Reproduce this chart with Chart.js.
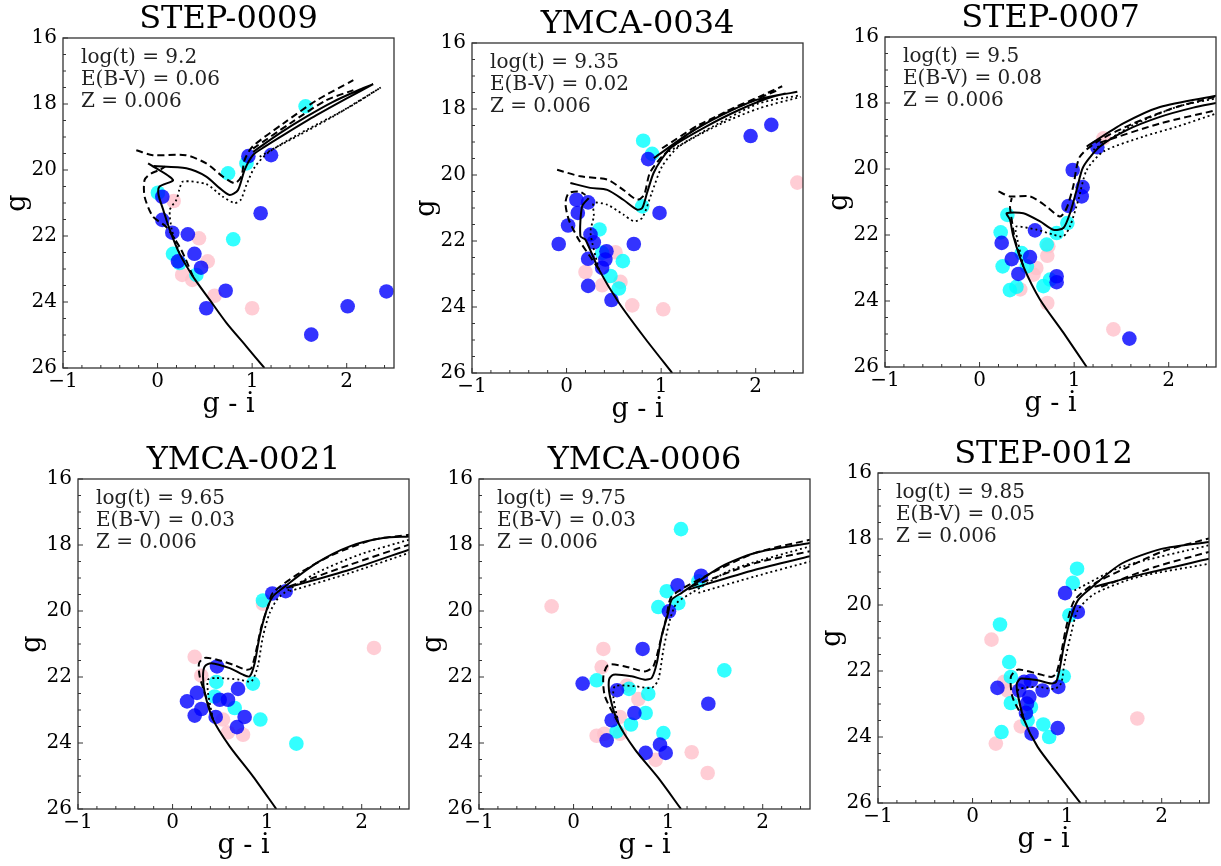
<!DOCTYPE html>
<html>
<head>
<meta charset="utf-8">
<title>Isochrone fits</title>
<script src="https://cdn.jsdelivr.net/npm/chart.js"></script>
<style>
  html, body { margin: 0; padding: 0; background: #fff; overflow: hidden; }
  body { width: 1221px; height: 866px; position: relative; }
  canvas { position: absolute; }
</style>
</head>
<body>
<canvas id="c1" width="401" height="422" style="left:1px;top:1px"></canvas>
<canvas id="c2" width="401" height="422" style="left:410px;top:6px"></canvas>
<canvas id="c3" width="401" height="422" style="left:823px;top:0px"></canvas>
<canvas id="c4" width="401" height="422" style="left:16px;top:442px"></canvas>
<canvas id="c5" width="401" height="422" style="left:417px;top:442px"></canvas>
<canvas id="c6" width="401" height="422" style="left:816px;top:436px"></canvas>
<script>
// axes
const xTicks = [-1, 0, 1, 2];
const yTicks = [16, 18, 20, 22, 24, 26];

// panel labels
const titles = ['STEP-0009', 'YMCA-0034', 'STEP-0007', 'YMCA-0021', 'YMCA-0006', 'STEP-0012'];
const logAges = ['9.2', '9.35', '9.5', '9.65', '9.75', '9.85'];
const reddening = ['0.06', '0.02', '0.08', '0.03', '0.03', '0.05'];
const metallicity = ['0.006', '0.006', '0.006', '0.006', '0.006', '0.006'];

// stars: [g - i, g]
const p1Blue = [[0.05,20.81],[0.05,21.51],[0.156,21.90],[0.32,21.95],[0.39,22.54],[0.216,22.77],[0.46,22.96],[0.515,24.19],[0.72,23.66],[1.09,21.31],[1.20,19.55],[0.96,19.58],[1.625,24.99],[2.01,24.13],[2.42,23.68]];
const p1Cyan = [[0.004,20.69],[0.745,20.10],[0.80,22.10],[0.163,22.54],[0.233,22.82],[0.41,23.18],[0.94,19.80],[1.565,18.07]];
const p1Pink = [[0.17,20.94],[0.438,22.07],[0.53,22.77],[0.26,23.18],[0.367,23.33],[0.603,23.81],[1.0,24.19]];

const p2Blue = [[0.104,20.75],[0.228,20.83],[0.119,21.15],[0.016,21.53],[-0.083,22.09],[0.253,21.80],[0.288,22.04],[0.228,22.54],[0.422,22.31],[0.41,22.56],[0.376,22.81],[0.228,23.36],[0.475,23.79],[0.711,22.09],[0.983,21.15],[0.863,19.52],[1.946,18.82],[2.165,18.48]];
const p2Cyan = [[0.81,18.96],[0.905,19.36],[0.80,20.95],[0.348,21.65],[0.376,22.36],[0.595,22.61],[0.464,23.06],[0.553,23.44]];
const p2Pink = [[0.517,22.34],[0.20,22.94],[0.376,23.34],[0.57,23.24],[0.694,23.95],[1.022,24.07],[2.44,20.23]];

const p3Blue = [[1.245,19.34],[0.985,20.03],[1.09,20.55],[1.08,20.83],[0.94,21.12],[0.586,21.86],[0.234,22.24],[0.533,22.67],[0.34,22.73],[0.41,23.18],[0.815,23.25],[0.815,23.43],[1.584,25.14]];
const p3Cyan = [[0.294,21.39],[0.223,21.92],[0.928,21.64],[0.815,21.94],[0.71,22.29],[0.445,22.55],[0.50,22.95],[0.244,22.95],[0.39,23.57],[0.32,23.67],[0.675,23.55],[0.745,23.35]];
const p3Pink = [[0.727,22.34],[0.716,22.63],[0.60,23.0],[0.57,23.2],[0.43,23.65],[0.716,24.06],[1.415,24.86],[1.31,19.07]];

const p4Blue = [[1.055,19.47],[1.196,19.40],[0.47,21.68],[0.692,22.36],[0.258,22.48],[0.153,22.74],[0.304,22.97],[0.234,23.17],[0.498,22.69],[0.586,22.69],[0.456,23.21],[0.762,23.21],[0.681,23.52]];
const p4Cyan = [[0.956,19.68],[0.463,22.15],[0.85,22.2],[0.445,22.59],[0.657,22.94],[0.928,23.29],[1.309,24.02]];
const p4Pink = [[0.234,21.39],[0.956,19.78],[0.304,21.96],[0.533,23.29],[0.586,23.68],[0.745,23.75],[2.13,21.12]];

const p5Blue = [[1.348,18.93],[1.10,19.22],[1.009,20.01],[0.73,21.15],[0.096,22.2],[0.459,22.40],[0.403,23.31],[0.643,23.09],[0.35,23.92],[0.762,24.30],[0.914,24.05],[0.974,24.30],[1.425,22.81]];
const p5Cyan = [[1.136,17.52],[0.985,19.40],[1.108,19.76],[0.896,19.88],[0.244,22.10],[0.586,22.36],[0.79,22.51],[0.762,23.09],[0.607,23.44],[0.456,23.65],[0.95,23.70],[1.594,21.80],[1.32,19.10]];
const p5Pink = [[-0.232,19.86],[0.315,21.15],[0.297,21.70],[0.562,22.26],[0.685,22.67],[0.49,23.21],[0.244,23.78],[0.325,23.72],[0.49,23.72],[0.868,24.51],[1.249,24.28],[1.418,24.91]];

const p6Blue = [[0.978,19.64],[1.113,20.21],[0.263,22.51],[0.546,22.33],[0.617,22.30],[0.493,22.59],[0.6,22.79],[0.741,22.59],[0.907,22.48],[0.575,22.99],[0.564,23.27],[0.90,23.73],[0.624,23.90]];
const p6Cyan = [[1.105,18.90],[1.06,19.33],[1.024,20.31],[0.29,20.59],[0.387,21.73],[0.405,22.18],[0.964,22.16],[0.405,22.97],[0.617,23.09],[0.582,23.49],[0.748,23.62],[0.81,24.0],[0.306,23.85]];
const p6Pink = [[0.20,21.05],[0.37,22.59],[0.334,22.33],[0.51,23.68],[0.246,24.2],[1.742,23.44]];

// isochrones: [g - i, g], null = break between branches
const p1Solid = [[1.13,26.0],[0.94,25.35],[0.73,24.64],[0.55,23.93],[0.375,23.23],[0.23,22.52],[0.13,21.82],[0.06,21.21],[0.01,20.75],[0.02,20.5],[0.163,20.30],[-0.10,19.80], null,
  [-0.04,19.88],[0.304,19.95],[0.515,20.20],[0.656,20.55],[0.762,20.76],[0.85,20.61],[0.92,20.0],[1.008,19.55],[1.13,19.3],[1.36,18.89],[1.68,18.34],[2.0,17.83],[2.28,17.40], null,
  [1.01,19.45],[1.29,18.89],[1.57,18.39],[1.85,17.94],[2.14,17.56],[2.28,17.40]];
const p1Dashed = [[0.375,23.23],[0.25,22.42],[0.09,21.72],[-0.05,21.41],[-0.137,20.81],[-0.137,20.30],[-0.066,20.1],[0.02,20.0],[0.08,19.9], null,
  [-0.225,19.40],[-0.05,19.55],[0.30,19.55],[0.515,19.80],[0.69,20.2],[0.815,20.40],[0.885,20.2],[0.92,19.7],[1.0,19.3],[1.33,18.59],[1.68,17.89],[2.07,17.28], null,
  [1.01,19.35],[1.40,18.59],[1.78,17.89],[2.07,17.58]];
const p1Dotted = [[0.23,22.52],[0.15,21.8],[0.13,21.21],[0.2,20.9],[0.23,20.6],[0.268,20.35],[0.515,20.43],[0.69,20.81],[0.815,21.0],[0.88,20.9],[0.94,20.45],[1.03,19.9],[1.18,19.45],[1.50,18.94],[1.85,18.39],[2.36,17.50], null,
  [1.08,19.6],[1.5,18.9],[2.03,18.09],[2.36,17.50]];

const p2Solid = [[1.117,26.0],[0.835,24.97],[0.553,23.87],[0.341,22.86],[0.20,21.96],[0.146,21.85],[0.164,20.95],[0.234,20.70], null,
  [0.04,20.24],[0.25,20.39],[0.43,20.45],[0.60,20.75],[0.745,21.05],[0.80,21.0],[0.85,20.55],[0.92,19.94],[1.01,19.5],[1.117,19.14],[1.47,18.54],[1.823,18.03],[2.176,17.63],[2.44,17.48], null,
  [0.923,19.49],[1.294,18.74],[1.646,18.18],[2.0,17.73],[2.317,17.53]];
const p2Dashed = [[0.341,22.86],[0.27,22.56],[0.129,21.96],[0.023,21.35],[-0.012,20.85],[0.023,20.55],[0.129,20.5],[0.20,20.6], null,
  [-0.10,19.84],[0.146,20.04],[0.43,20.14],[0.60,20.45],[0.745,20.75],[0.82,20.6],[0.88,19.94],[1.01,19.44],[1.294,18.74],[1.682,18.08],[2.035,17.63],[2.28,17.31], null,
  [1.01,19.19],[1.40,18.48],[1.823,17.93],[2.25,17.41]];
const p2Dotted = [[0.341,22.86],[0.253,21.75],[0.288,21.25],[0.287,20.85],[0.43,20.9],[0.60,21.2],[0.71,21.4],[0.80,21.3],[0.90,20.55],[1.01,19.74],[1.188,19.14],[1.646,18.43],[2.035,17.98],[2.476,17.63], null,
  [1.08,19.29],[1.54,18.54],[2.035,17.83],[2.476,17.58]];

const p3Solid = [[1.133,26.0],[0.886,24.96],[0.64,23.96],[0.463,22.95],[0.357,22.04],[0.322,21.54],[0.287,21.34],[0.463,21.34],[0.64,21.59],[0.78,21.84],[0.886,21.79],[0.956,21.34],[1.027,20.63],[1.097,19.93],[1.273,19.32],[1.556,18.82],[1.908,18.42],[2.26,18.14],[2.5,18.0], null,
  [1.133,19.32],[1.52,18.62],[1.908,18.12],[2.5,17.78]];
const p3Dashed = [[0.463,22.95],[0.375,22.14],[0.34,21.54],[0.322,21.14],[0.34,20.88], null,
  [0.2,20.68],[0.322,20.83],[0.533,20.83],[0.71,21.14],[0.85,21.44],[0.92,21.19],[0.99,20.53],[1.06,19.63],[1.273,19.12],[1.626,18.62],[2.084,18.12],[2.5,17.81], null,
  [1.273,19.2],[1.908,18.62],[2.5,18.22]];
const p3Dotted = [[0.463,22.95],[0.40,22.14],[0.38,21.84],[0.392,21.74],[0.604,21.84],[0.78,21.99],[0.886,22.04],[0.956,21.74],[1.045,20.93],[1.133,20.03],[1.31,19.47],[1.73,19.02],[2.084,18.72],[2.5,18.32], null,
  [1.203,19.42],[1.59,18.72],[2.084,18.12],[2.5,17.86]];

const p4Solid = [[1.097,26.0],[0.85,25.01],[0.604,24.10],[0.428,23.29],[0.34,22.48],[0.322,21.98],[0.34,21.68],[0.41,21.58],[0.604,21.73],[0.745,21.93],[0.815,21.98],[0.868,21.58],[0.92,20.77],[0.99,20.01],[1.06,19.56],[1.168,19.30],[1.52,18.55],[1.873,18.04],[2.225,17.79],[2.5,17.74], null,
  [1.203,19.30],[1.873,18.75],[2.5,18.14]];
const p4Dashed = [[0.428,23.29],[0.34,22.48],[0.287,21.98],[0.28,21.58],[0.34,21.42],[0.463,21.47],[0.64,21.63],[0.78,21.78],[0.833,21.73],[0.886,21.17],[0.94,20.46],[1.01,19.86],[1.06,19.45],[1.344,18.85],[1.697,18.29],[2.12,17.84],[2.5,17.69], null,
  [1.238,19.25],[1.873,18.6],[2.5,17.99]];
const p4Dotted = [[0.428,23.29],[0.375,22.48],[0.375,22.08],[0.463,22.03],[0.71,22.08],[0.833,22.13],[0.90,21.68],[0.956,20.77],[1.027,20.06],[1.133,19.56],[1.52,18.85],[1.978,18.29],[2.5,17.84], null,
  [1.238,19.40],[1.873,18.85],[2.5,18.24]];

const p5Solid = [[1.136,26.0],[0.896,25.06],[0.65,24.2],[0.473,23.39],[0.385,22.59],[0.375,22.08],[0.42,21.93],[0.614,21.98],[0.755,22.08],[0.826,22.03],[0.88,21.58],[0.93,20.77],[1.0,20.06],[1.037,19.66],[1.143,19.45],[1.566,18.65],[1.92,18.24],[2.5,17.94], null,
  [1.214,19.35],[1.92,18.75],[2.5,18.34]];
const p5Dashed = [[0.473,23.39],[0.332,22.59],[0.315,21.98],[0.368,21.63],[0.544,21.68],[0.755,21.83],[0.843,21.68],[0.914,20.97],[0.984,20.16],[1.037,19.56],[1.39,18.95],[1.92,18.24],[2.5,17.84], null,
  [1.249,19.25],[1.92,18.55],[2.5,18.19]];
const p5Dotted = [[0.473,23.39],[0.42,22.59],[0.438,22.28],[0.65,22.28],[0.826,22.33],[0.896,22.08],[0.95,21.17],[1.02,20.26],[1.09,19.76],[1.249,19.45],[1.672,18.75],[2.5,18.04], null,
  [1.32,19.45],[1.92,18.95],[2.5,18.5]];

const p6Solid = [[1.141,26.0],[0.90,25.11],[0.688,24.3],[0.546,23.49],[0.476,22.69],[0.468,22.38],[0.511,22.23],[0.688,22.28],[0.83,22.38],[0.883,22.33],[0.918,21.98],[0.97,21.17],[1.042,20.36],[1.113,19.86],[1.22,19.56],[1.573,18.75],[1.997,18.3],[2.5,18.09], null,
  [1.29,19.45],[1.82,19.05],[2.5,18.6]];
const p6Dashed = [[0.546,23.49],[0.422,22.79],[0.405,22.18],[0.476,21.96],[0.688,22.08],[0.83,22.18],[0.883,22.08],[0.929,21.58],[0.99,20.67],[1.077,19.86],[1.29,19.35],[1.643,18.85],[1.997,18.39],[2.5,17.98], null,
  [1.36,19.45],[1.926,18.85],[2.5,18.39]];
const p6Dotted = [[0.546,23.49],[0.476,22.69],[0.493,22.54],[0.688,22.48],[0.865,22.54],[0.936,22.38],[0.97,21.78],[1.042,20.87],[1.113,20.16],[1.29,19.66],[1.75,19.15],[2.5,18.75], null,
  [1.077,19.56],[1.573,18.85],[2.5,18.19]];

const panels = [
  {blue: p1Blue, cyan: p1Cyan, pink: p1Pink, solid: p1Solid, dashed: p1Dashed, dotted: p1Dotted},
  {blue: p2Blue, cyan: p2Cyan, pink: p2Pink, solid: p2Solid, dashed: p2Dashed, dotted: p2Dotted},
  {blue: p3Blue, cyan: p3Cyan, pink: p3Pink, solid: p3Solid, dashed: p3Dashed, dotted: p3Dotted},
  {blue: p4Blue, cyan: p4Cyan, pink: p4Pink, solid: p4Solid, dashed: p4Dashed, dotted: p4Dotted},
  {blue: p5Blue, cyan: p5Cyan, pink: p5Pink, solid: p5Solid, dashed: p5Dashed, dotted: p5Dotted},
  {blue: p6Blue, cyan: p6Cyan, pink: p6Pink, solid: p6Solid, dashed: p6Dashed, dotted: p6Dotted}
];

const FONT = '"DejaVu Serif", "Liberation Serif", serif';

function toXY(arr) {
  return arr.map(p => p ? {x: p[0], y: p[1]} : {x: null, y: null});
}

function minusLabel(v) {
  return v < 0 ? '\u2212' + Math.abs(v) : String(v);
}

// frame, inward ticks and the fit parameters
const framePlugin = {
  id: 'frame',
  afterDatasetsDraw(chart, args, opts) {
    const ctx = chart.ctx;
    const a = chart.chartArea;
    const xs = chart.scales.x, ys = chart.scales.y;
    ctx.save();
    ctx.strokeStyle = '#333';
    ctx.lineWidth = 1.3;
    ctx.strokeRect(a.left, a.top, a.right - a.left, a.bottom - a.top);
    ctx.lineWidth = 1;
    ctx.beginPath();
    for (let i = -5; i <= 12; i++) {
      const px = xs.getPixelForValue(i / 5);
      const len = (i % 5 === 0) ? 5 : 3;
      ctx.moveTo(px, a.bottom);
      ctx.lineTo(px, a.bottom - len);
    }
    for (let i = 32; i <= 52; i++) {
      const py = ys.getPixelForValue(i / 2);
      const len = (i % 4 === 0) ? 5 : 3;
      ctx.moveTo(a.left, py);
      ctx.lineTo(a.left + len, py);
    }
    ctx.stroke();

    ctx.fillStyle = '#222';
    ctx.font = '20px ' + FONT;
    ctx.textAlign = 'left';
    ctx.textBaseline = 'middle';
    opts.lines.forEach((t, i) => ctx.fillText(t, a.left + 18, a.top + 20 + i * 22));
    ctx.restore();
  }
};

panels.forEach((p, i) => {
  const ctx = document.getElementById('c' + (i + 1)).getContext('2d');
  new Chart(ctx, {
    type: 'scatter',
    data: {
      datasets: [
        {data: toXY(p.solid), showLine: true, borderColor: '#000', borderWidth: 2, pointRadius: 0, tension: 0.25},
        {data: toXY(p.dashed), showLine: true, borderColor: '#000', borderWidth: 2, borderDash: [7, 4], pointRadius: 0, tension: 0.25},
        {data: toXY(p.dotted), showLine: true, borderColor: '#000', borderWidth: 1.8, borderDash: [2, 3], pointRadius: 0, tension: 0.25},
        {data: toXY(p.blue), pointRadius: 7.3, pointBackgroundColor: 'rgba(0,0,255,0.8)', pointBorderWidth: 0},
        {data: toXY(p.cyan), pointRadius: 7.3, pointBackgroundColor: 'rgba(0,255,255,0.8)', pointBorderWidth: 0},
        {data: toXY(p.pink), pointRadius: 7.3, pointBackgroundColor: 'rgba(255,192,203,0.8)', pointBorderWidth: 0}
      ]
    },
    options: {
      responsive: false,
      animation: false,
      devicePixelRatio: 1,
      events: [],
      layout: { padding: { left: 0, right: 8, top: 0, bottom: 0 } },
      plugins: {
        legend: { display: false },
        tooltip: { enabled: false },
        title: {
          display: true,
          text: titles[i],
          color: '#000',
          fullSize: false,
          padding: 0,
          font: { family: FONT, size: 32, weight: 'normal', lineHeight: '37px' }
        },
        frame: {
          lines: ['log(t) = ' + logAges[i], 'E(B-V) = ' + reddening[i], 'Z = ' + metallicity[i]]
        }
      },
      scales: {
        x: {
          type: 'linear',
          min: -1,
          max: 2.5,
          afterBuildTicks: s => { s.ticks = xTicks.map(v => ({value: v})); },
          afterFit: s => { s.height = 55; },
          ticks: { padding: 2, color: '#000', font: { family: FONT, size: 20 }, callback: minusLabel, autoSkip: false, maxRotation: 0 },
          grid: { display: false, drawTicks: false },
          border: { display: false },
          title: { display: true, text: 'g - i', color: '#000', padding: { top: 0, bottom: 2 }, font: { family: FONT, size: 27 } }
        },
        y: {
          type: 'linear',
          min: 16,
          max: 26,
          reverse: true,
          afterBuildTicks: s => { s.ticks = yTicks.map(v => ({value: v})); },
          afterFit: s => { s.width = 62; },
          ticks: { padding: 6, color: '#000', font: { family: FONT, size: 20 }, autoSkip: false },
          grid: { display: false, drawTicks: false },
          border: { display: false },
          title: { display: true, text: 'g', color: '#000', padding: { top: 1, bottom: 0 }, font: { family: FONT, size: 27 } }
        }
      }
    },
    plugins: [framePlugin]
  });
});
</script>
</body>
</html>
